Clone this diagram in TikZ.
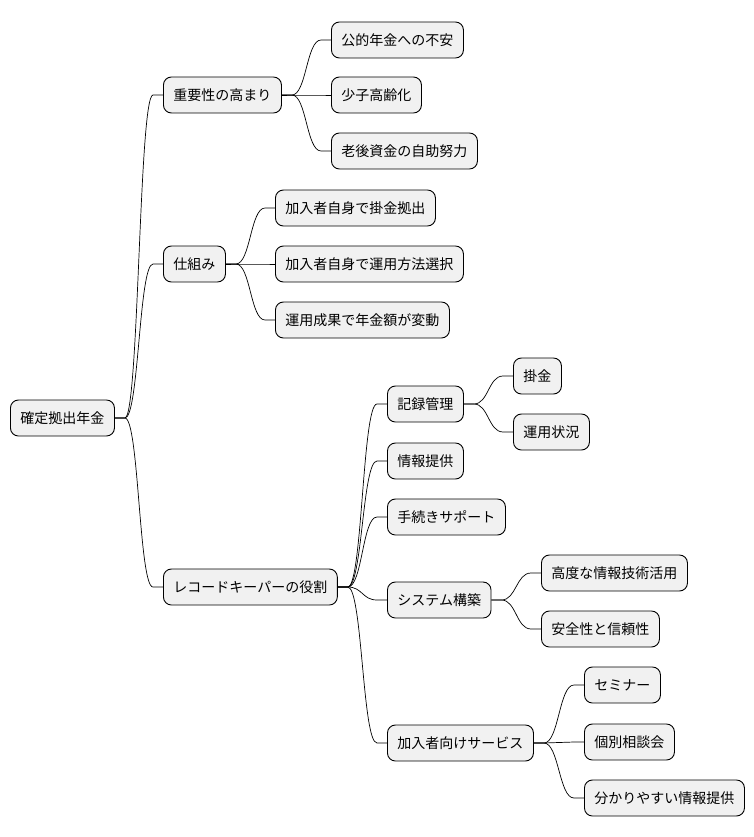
\documentclass[tikz,border=0pt]{standalone}
\usepackage{fontspec}
\setmainfont{Noto Sans CJK JP}
\usetikzlibrary{calc}
\tikzset{
  mmnode/.style={draw=black, line width=0.9pt, fill=mmfill, rounded corners=8pt,
    anchor=west, minimum height=36pt, inner xsep=10pt, inner ysep=0pt,
    font=\fontsize{14}{16}\selectfont, text=black},
  mmline/.style={draw=black, line width=0.7pt}
}
\definecolor{mmfill}{HTML}{F1F1F1}
\newcommand\mmlink[2]{%
  \path (#1.east) ++(10pt,0) coordinate (mmA) (#2.west) ++(-10pt,0) coordinate (mmB);
  \path ($(mmA)!0.5!(mmB)$) coordinate (mmM);
  \draw[mmline] (#1.east) -- (mmA) .. controls (mmM |- mmA) and (mmM |- mmB) .. (mmB) -- (#2.west);}
\begin{document}
\begin{tikzpicture}[x=1pt,y=1pt]
\useasboundingbox (0,0) rectangle (754,-837);
\node[mmnode] (root) at (10,-418) {確定拠出年金};
\node[mmnode] (a) at (163,-95) {重要性の高まり};
\node[mmnode] (b) at (163,-264) {仕組み};
\node[mmnode] (c) at (163,-587) {レコードキーパーの役割};
\node[mmnode] (a1) at (331,-40) {公的年金への不安};
\node[mmnode] (a2) at (331,-95) {少子高齢化};
\node[mmnode] (a3) at (331,-151) {老後資金の自助努力};
\node[mmnode] (b1) at (275,-208) {加入者自身で掛金拠出};
\node[mmnode] (b2) at (275,-264) {加入者自身で運用方法選択};
\node[mmnode] (b3) at (275,-320) {運用成果で年金額が変動};
\node[mmnode] (c1) at (387,-404) {記録管理};
\node[mmnode] (c2) at (387,-461) {情報提供};
\node[mmnode] (c3) at (387,-517) {手続きサポート};
\node[mmnode] (c4) at (387,-600) {システム構築};
\node[mmnode] (c5) at (387,-743) {加入者向けサービス};
\node[mmnode] (c11) at (513,-376) {掛金};
\node[mmnode] (c12) at (513,-432) {運用状況};
\node[mmnode] (c41) at (541,-573) {高度な情報技術活用};
\node[mmnode] (c42) at (541,-629) {安全性と信頼性};
\node[mmnode] (c51) at (584,-685) {セミナー};
\node[mmnode] (c52) at (584,-742) {個別相談会};
\node[mmnode] (c53) at (584,-798) {分かりやすい情報提供};
\mmlink{root}{a}\mmlink{root}{b}\mmlink{root}{c}
\mmlink{a}{a1}\mmlink{a}{a2}\mmlink{a}{a3}
\mmlink{b}{b1}\mmlink{b}{b2}\mmlink{b}{b3}
\mmlink{c}{c1}\mmlink{c}{c2}\mmlink{c}{c3}\mmlink{c}{c4}\mmlink{c}{c5}
\mmlink{c1}{c11}\mmlink{c1}{c12}
\mmlink{c4}{c41}\mmlink{c4}{c42}
\mmlink{c5}{c51}\mmlink{c5}{c52}\mmlink{c5}{c53}
\end{tikzpicture}
\end{document}
